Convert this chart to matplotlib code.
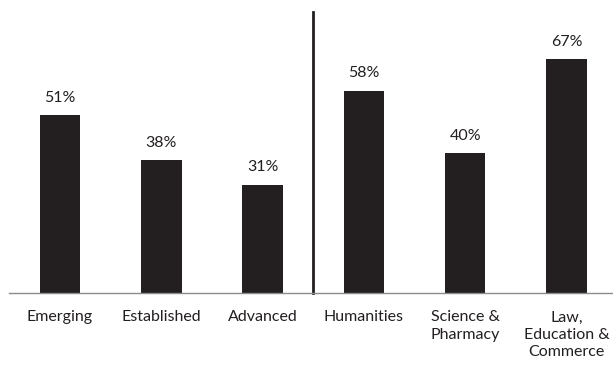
import matplotlib.pyplot as plt

categories = ["Emerging", "Established", "Advanced", "Humanities",
              "Science &\nPharmacy", "Law,\nEducation &\nCommerce"]
values = [51, 38, 31, 58, 40, 67]
value_labels = ["51%", "38%", "31%", "58%", "40%", "67%"]

plt.rcParams['font.family'] = ['Lato', 'DejaVu Sans']

fig = plt.figure(figsize=(6.13, 3.68), dpi=100)
ax = fig.add_axes([0, 75 / 368, 1, 293 / 368])

x = list(range(len(categories)))
ax.bar(x, values, width=0.4, color="#231f20")

for xi, v, lab in zip(x, values, value_labels):
    ax.text(xi, v + 3, lab, ha="center", va="bottom", fontsize=11.5, color="#231f20")

for xi, cat in zip(x, categories):
    ax.text(xi, -5, cat, ha="center", va="top", fontsize=11.5, color="#231f20",
            linespacing=1.3)

# divider between the two groups
ax.plot([2.5, 2.5], [0, 80.5], color="#231f20", lw=2, clip_on=False)
ax.plot([-0.5, 5.5], [0, 0], color="#8c8c8c", lw=1, clip_on=False)

ax.set_xlim(-0.592, 5.459)
ax.set_ylim(0, 84)
ax.axis("off")

fig.savefig("out.png", dpi=100)
